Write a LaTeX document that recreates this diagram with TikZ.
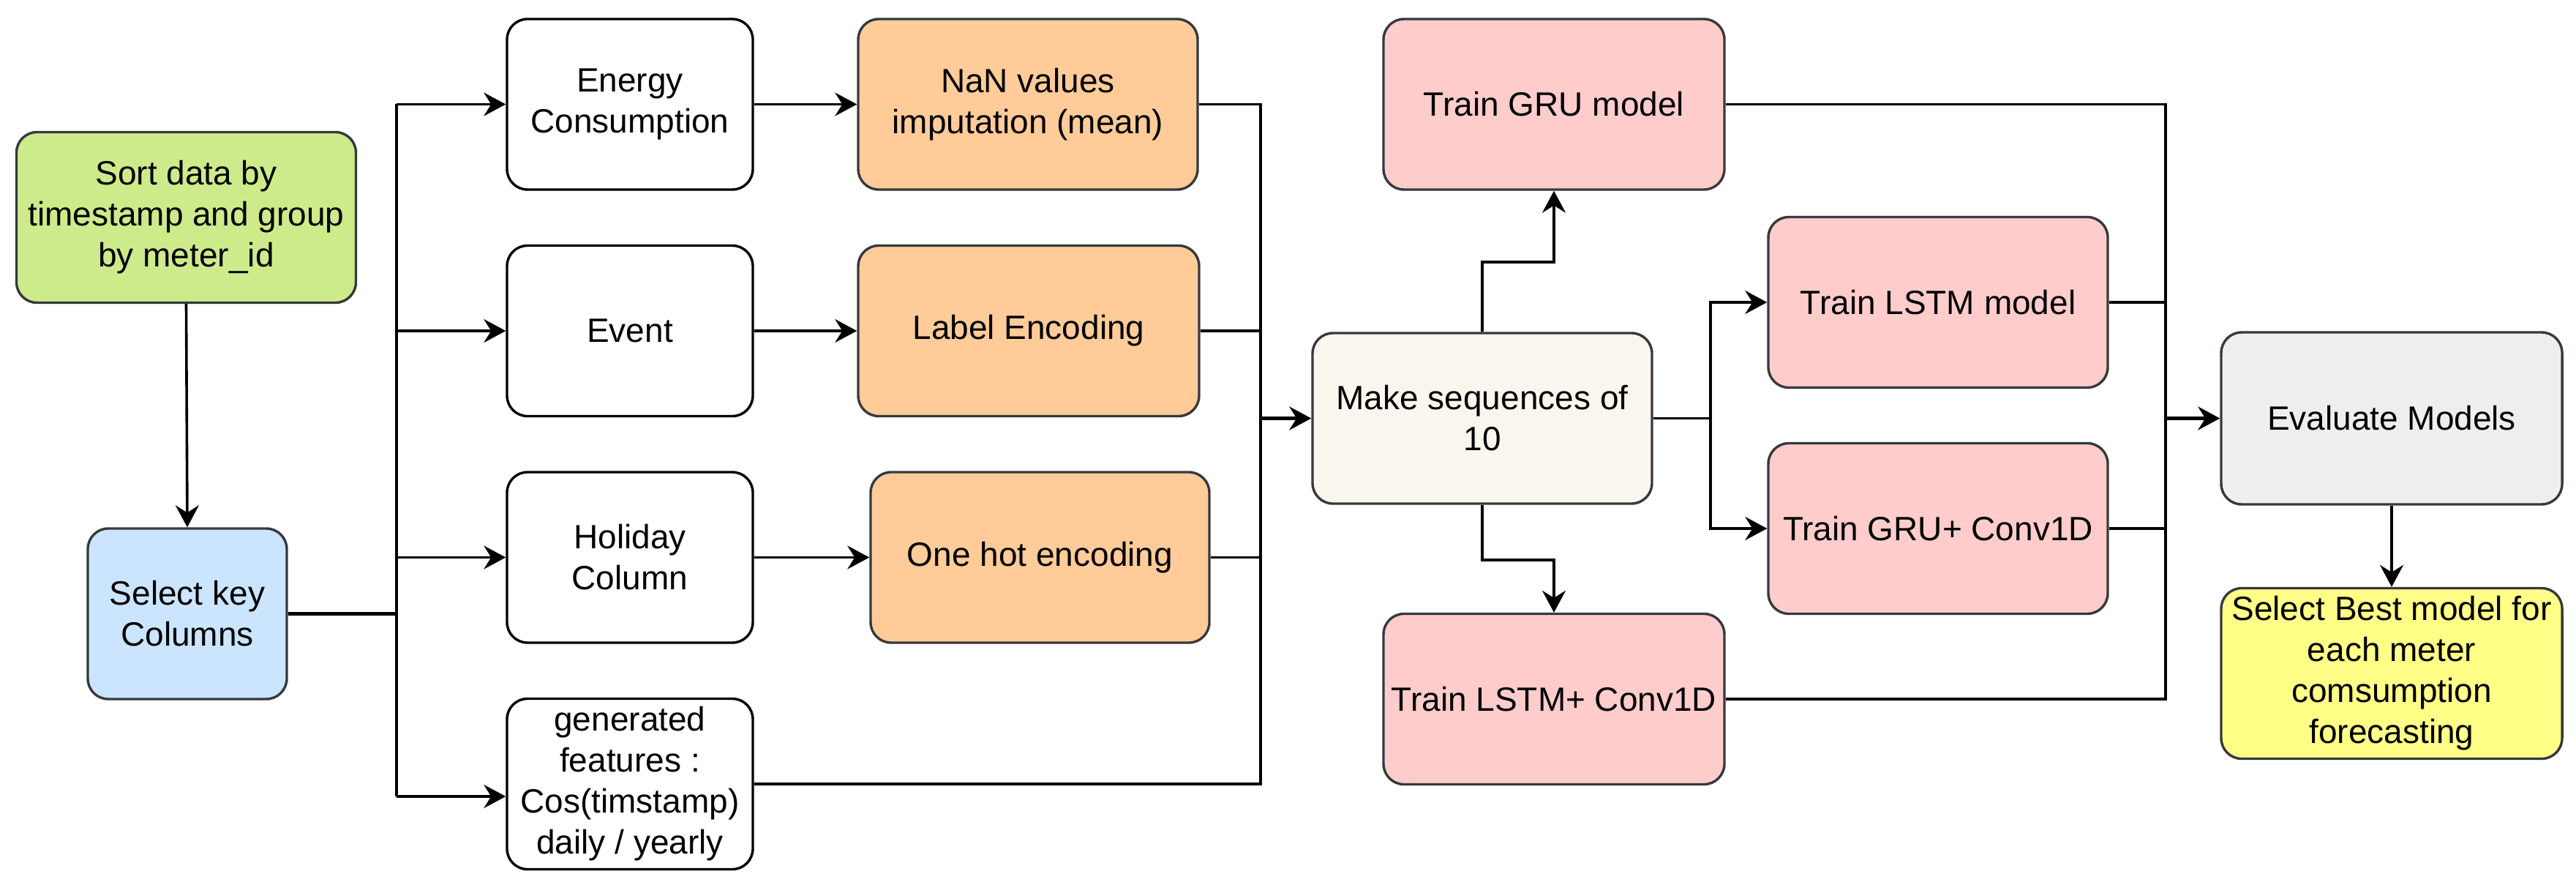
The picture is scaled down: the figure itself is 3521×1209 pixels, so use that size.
\documentclass[tikz,border=0pt]{standalone}
\usepackage{fontspec}
\setmainfont{Liberation Sans}
\usetikzlibrary{arrows.meta}
\definecolor{cstroke}{HTML}{36393D}
\definecolor{cgreen}{HTML}{CDEB8B}
\definecolor{cblue}{HTML}{CCE5FF}
\definecolor{corange}{HTML}{FFCC99}
\definecolor{cpink}{HTML}{FFCCCC}
\definecolor{ccream}{HTML}{F9F7ED}
\definecolor{cgray}{HTML}{EEEEEE}
\definecolor{cyellow}{HTML}{FFFF88}
\begin{document}
\begin{tikzpicture}[x=0.5pt,y=-0.5pt,
  box/.style={draw=cstroke, line width=1.7pt, rounded corners=14pt, align=center,
    font=\fontsize{23}{28}\selectfont, text=black, inner sep=2pt,
    minimum width=232pt, minimum height=116.5pt},
  wbox/.style={box, draw=black, fill=white, minimum width=168pt},
  line/.style={draw=black, line width=1.8pt},
  thick line/.style={draw=black, line width=2.5pt},
  arr/.style={line, -{Stealth[length=15pt,width=16pt,inset=5pt]}},
  thick arr/.style={thick line, -{Stealth[length=15pt,width=16pt,inset=5pt]}}
]
\useasboundingbox (0,0) rectangle (3521,1209);

% nodes
\node[box, fill=cgreen] (sort) at (254.5,297) {Sort data by\\timestamp and group\\by meter\_id};
\node[box, fill=cblue, minimum width=136pt] (select) at (256,838.5) {Select key\\Columns};

\node[wbox] (energy) at (861,142.5) {Energy\\Consumption};
\node[wbox] (event) at (861,452) {Event};
\node[wbox] (holiday) at (861,761.5) {Holiday\\Column};
\node[wbox] (gen) at (861,1071) {generated\\features :\\Cos(timstamp)\\daily / yearly};

\node[box, fill=corange] (nan) at (1405,142.5) {NaN values\\imputation (mean)};
\node[box, fill=corange, minimum width=233pt] (label) at (1406,452) {Label Encoding};
\node[box, fill=corange, minimum width=231.5pt] (onehot) at (1421.5,761.5) {One hot encoding};

\node[box, fill=ccream] (make) at (2026,571.5) {Make sequences of\\10};

\node[box, fill=cpink, minimum width=233pt] (gru) at (2124,142.5) {Train GRU model};
\node[box, fill=cpink, minimum width=233pt] (lstmc) at (2124,955) {Train LSTM+ Conv1D};
\node[box, fill=cpink] (lstm) at (2649,413) {Train LSTM model};
\node[box, fill=cpink] (gruc) at (2649,722) {Train GRU+ Conv1D};

\node[box, fill=cgray, minimum width=233pt, minimum height=117.5pt] (eval) at (3269,571.5) {Evaluate Models};
\node[box, fill=cyellow, minimum width=233pt] (best) at (3269,920) {Select Best model for\\each meter\\comsumption\\forecasting};

% bus coordinates
\coordinate (b1top) at (542,142.5);
\coordinate (b1bot) at (542,1088);
\coordinate (b2top) at (1723,142.5);
\coordinate (b2bot) at (1723,1071);
\coordinate (b3top) at (2960,142.5);
\coordinate (b3bot) at (2960,955);
\coordinate (u1) at (2026,358);
\coordinate (u2) at (2124,358);
\coordinate (d1) at (2026,765);
\coordinate (d2) at (2124,765);
\coordinate (br) at (2338,571.5);

% connectors
\draw[arr] (sort.south) -- (select.north);
\draw[thick line] (select.east) -- (select.east -| b1top);
\draw[line] (b1top) -- (b1bot);
\draw[arr] (b1top) -- (energy.west);
\draw[arr] (event.west -| b1top) -- (event.west);
\draw[arr] (holiday.west -| b1top) -- (holiday.west);
\draw[arr] (b1bot) -- (b1bot -| gen.west);

\draw[arr] (energy.east) -- (nan.west);
\draw[arr] (event.east) -- (label.west);
\draw[arr] (holiday.east) -- (onehot.west);

\draw[line] (nan.east) -- (b2top) -- (b2bot) -- (gen.east);
\draw[line] (label.east) -- (label.east -| b2top);
\draw[line] (onehot.east) -- (onehot.east -| b2top);
\draw[thick arr] (make.west -| b2top) -- (make.west);

\draw[arr] (make.north) -- (u1) -- (u2) -- (gru.south);
\draw[arr] (make.south) -- (d1) -- (d2) -- (lstmc.north);
\draw[line] (make.east) -- (br);
\draw[arr] (br) |- (lstm.west);
\draw[arr] (br) |- (gruc.west);

\draw[line] (gru.east) -- (b3top) -- (b3bot) -- (lstmc.east);
\draw[line] (lstm.east) -- (lstm.east -| b3top);
\draw[line] (gruc.east) -- (gruc.east -| b3top);
\draw[thick arr] (eval.west -| b3top) -- (eval.west);

\draw[arr] (eval.south) -- (best.north);
\end{tikzpicture}
\end{document}
